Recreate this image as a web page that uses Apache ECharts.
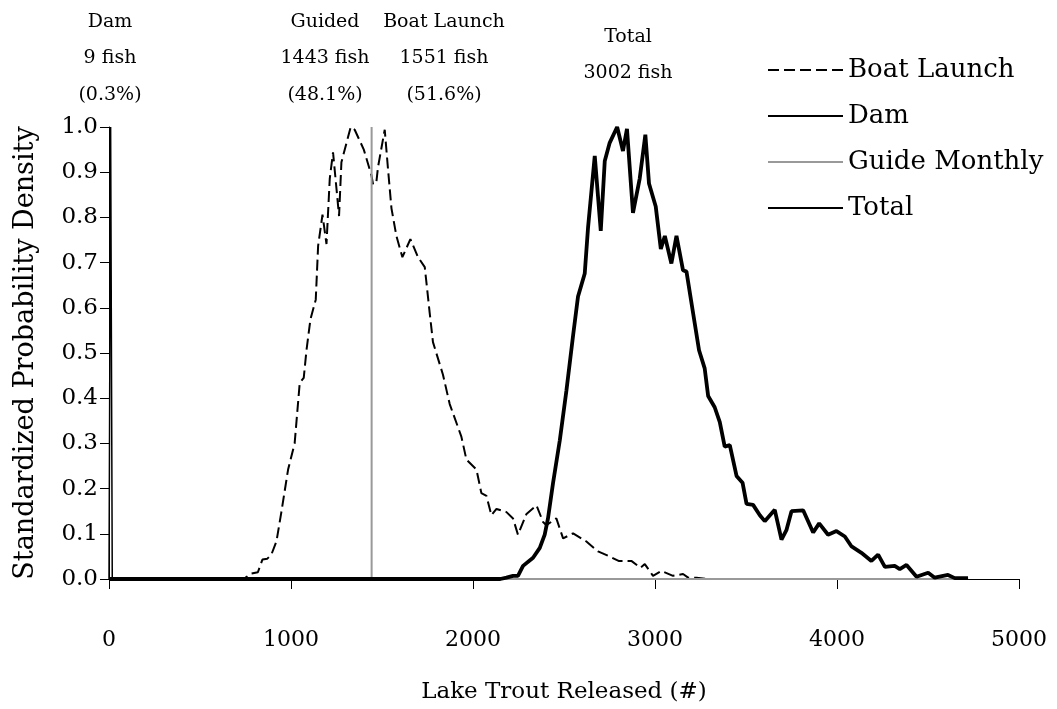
<!DOCTYPE html>
<html>
<head>
<meta charset="utf-8">
<script src="https://cdn.jsdelivr.net/npm/echarts@6/dist/echarts.min.js"></script>
<style>
    html, body { margin: 0; padding: 0; background: #fff; }
    #LakeTrout { width: 1057px; height: 709px; }
</style>
</head>
<body>
<div id="LakeTrout"></div>
<script>
    // Boat Launch (dashed)
    var boatX = [0, 700, 750, 782, 818, 843, 870, 892, 920, 947, 984, 1020, 1048, 1070, 1085, 1107, 1136, 1149, 1173, 1195, 1213, 1231, 1264, 1277, 1328, 1350, 1400, 1442, 1451, 1469, 1478, 1515, 1533, 1552, 1579, 1612, 1656, 1698, 1735, 1762, 1780, 1835, 1872, 1936, 1964, 2019, 2046, 2074, 2101, 2129, 2184, 2220, 2247, 2294, 2349, 2385, 2403, 2458, 2495, 2550, 2623, 2687, 2750, 2800, 2870, 2920, 2944, 2989, 3035, 3099, 3154, 3182, 3228, 3283, 4720];
    var boatY = [0, 0, 0.003, 0.012, 0.015, 0.043, 0.045, 0.054, 0.083, 0.148, 0.242, 0.30, 0.434, 0.445, 0.506, 0.575, 0.618, 0.737, 0.806, 0.741, 0.886, 0.944, 0.803, 0.922, 1.0, 0.994, 0.95, 0.893, 0.873, 0.878, 0.911, 0.994, 0.907, 0.82, 0.759, 0.712, 0.752, 0.712, 0.69, 0.589, 0.524, 0.452, 0.387, 0.315, 0.264, 0.242, 0.19, 0.184, 0.141, 0.155, 0.148, 0.134, 0.098, 0.144, 0.163, 0.126, 0.119, 0.134, 0.090, 0.101, 0.083, 0.061, 0.05, 0.04, 0.04, 0.025, 0.033, 0.007, 0.018, 0.007, 0.011, 0.003, 0.003, 0, 0];

    // Dam (spike at 9 fish)
    var damX = [0, 9, 18, 4720];
    var damY = [0, 1.0, 0, 0];

    // Guide Monthly (1443 fish)
    var guideX = [0, 1443, 1443, 1443, 4720];
    var guideY = [0, 0, 1.0, 0, 0];

    // Total (thick)
    var totalX = [0, 2150, 2184, 2220, 2247, 2275, 2330, 2367, 2394, 2412, 2440, 2477, 2513, 2550, 2577, 2614, 2632, 2669, 2702, 2724, 2751, 2792, 2824, 2846, 2879, 2916, 2947, 2967, 3004, 3032, 3054, 3090, 3118, 3154, 3173, 3209, 3242, 3273, 3292, 3328, 3356, 3383, 3411, 3448, 3481, 3503, 3539, 3576, 3603, 3658, 3695, 3722, 3750, 3814, 3869, 3902, 3951, 3997, 4043, 4080, 4134, 4189, 4226, 4263, 4317, 4345, 4382, 4437, 4501, 4537, 4610, 4647, 4720];
    var totalY = [0, 0, 0.003, 0.007, 0.007, 0.029, 0.047, 0.069, 0.098, 0.134, 0.213, 0.307, 0.416, 0.539, 0.625, 0.676, 0.777, 0.936, 0.770, 0.925, 0.965, 1.0, 0.947, 0.996, 0.81, 0.886, 0.983, 0.875, 0.824, 0.73, 0.759, 0.698, 0.759, 0.683, 0.68, 0.589, 0.506, 0.466, 0.405, 0.38, 0.347, 0.293, 0.296, 0.228, 0.213, 0.166, 0.164, 0.141, 0.128, 0.153, 0.087, 0.108, 0.150, 0.152, 0.103, 0.123, 0.098, 0.106, 0.094, 0.072, 0.058, 0.040, 0.054, 0.027, 0.029, 0.022, 0.031, 0.005, 0.014, 0.003, 0.009, 0.002, 0.002];

    // header notes above the plot
    var noteLines = [
        ['Dam', '9 fish', '(0.3%)'],
        ['Guided', '1443 fish', '(48.1%)'],
        ['Boat Launch', '1551 fish', '(51.6%)'],
        ['Total', '3002 fish']
    ];

    function pairs(xs, ys) {
        var out = [];
        for (var i = 0; i < xs.length; i++) {
            out.push([xs[i], ys[i]]);
        }
        return out;
    }

    var font = 'DejaVu Serif';
    var noteX = [110, 325, 444, 628];
    var noteTop = [22, 22, 22, 37];
    var graphics = [];
    noteLines.forEach(function (lines, i) {
        lines.forEach(function (t, j) {
            graphics.push({
                type: 'text',
                x: noteX[i],
                y: noteTop[i] + j * 36.5,
                style: {
                    text: t,
                    fontFamily: font,
                    fontSize: 19,
                    fill: '#000',
                    align: 'center',
                    verticalAlign: 'middle'
                }
            });
        });
    });

    var myCharts = echarts.init(document.getElementById('LakeTrout'));
    myCharts.setOption({
        backgroundColor: '#fff',
        animation: false,
        grid: {
            left: 109,
            right: 38,
            top: 127,
            bottom: 121
        },
        legend: {
            orient: 'vertical',
            left: 762,
            top: 50,
            itemWidth: 75,
            itemHeight: 14,
            itemGap: 16,
            itemStyle: { opacity: 0 },
            textStyle: {
                fontFamily: font,
                fontSize: 26,
                lineHeight: 30,
                color: '#000'
            },
            data: ['Boat Launch', 'Dam', 'Guide Monthly', 'Total']
        },
        graphic: graphics,
        xAxis: {
            type: 'value',
            min: 0,
            max: 5000,
            interval: 1000,
            name: 'Lake Trout Released (#)',
            nameLocation: 'middle',
            nameGap: 102,
            nameTextStyle: { fontFamily: font, fontSize: 23, color: '#000' },
            axisLine: { lineStyle: { color: '#000', width: 1 } },
            axisTick: { length: 10, lineStyle: { color: '#000' } },
            axisLabel: {
                fontFamily: font, fontSize: 22, color: '#000', margin: 50,
                formatter: function (val) { return String(val); }
            },
            splitLine: { show: false }
        },
        yAxis: {
            type: 'value',
            min: 0,
            max: 1,
            interval: 0.1,
            name: 'Standardized Probability Density',
            nameLocation: 'middle',
            nameGap: 70,
            nameTextStyle: { fontFamily: font, fontSize: 27, color: '#000' },
            axisLine: { show: true, lineStyle: { color: '#000', width: 1 } },
            axisTick: { show: true, length: 9, lineStyle: { color: '#000' } },
            axisLabel: {
                fontFamily: font, fontSize: 23, color: '#000', margin: 11,
                formatter: function (val) { return val.toFixed(1); }
            },
            splitLine: { show: false }
        },
        series: [
            {
                name: 'Boat Launch',
                type: 'line',
                symbol: 'none',
                data: pairs(boatX, boatY),
                lineStyle: { color: '#000', width: 2, type: [11, 5] },
                itemStyle: { color: '#000' }
            },
            {
                name: 'Dam',
                type: 'line',
                symbol: 'none',
                data: pairs(damX, damY),
                lineStyle: { color: '#000', width: 1.5 },
                itemStyle: { color: '#000' }
            },
            {
                name: 'Guide Monthly',
                type: 'line',
                symbol: 'none',
                data: pairs(guideX, guideY),
                lineStyle: { color: '#999', width: 2 },
                itemStyle: { color: '#999' }
            },
            {
                name: 'Total',
                type: 'line',
                symbol: 'none',
                data: pairs(totalX, totalY),
                lineStyle: { color: '#000', width: 3.8 },
                itemStyle: { color: '#000' }
            }
        ]
    });
    window.addEventListener('resize', function () {
        myCharts.resize();
    });
</script>
</body>
</html>
